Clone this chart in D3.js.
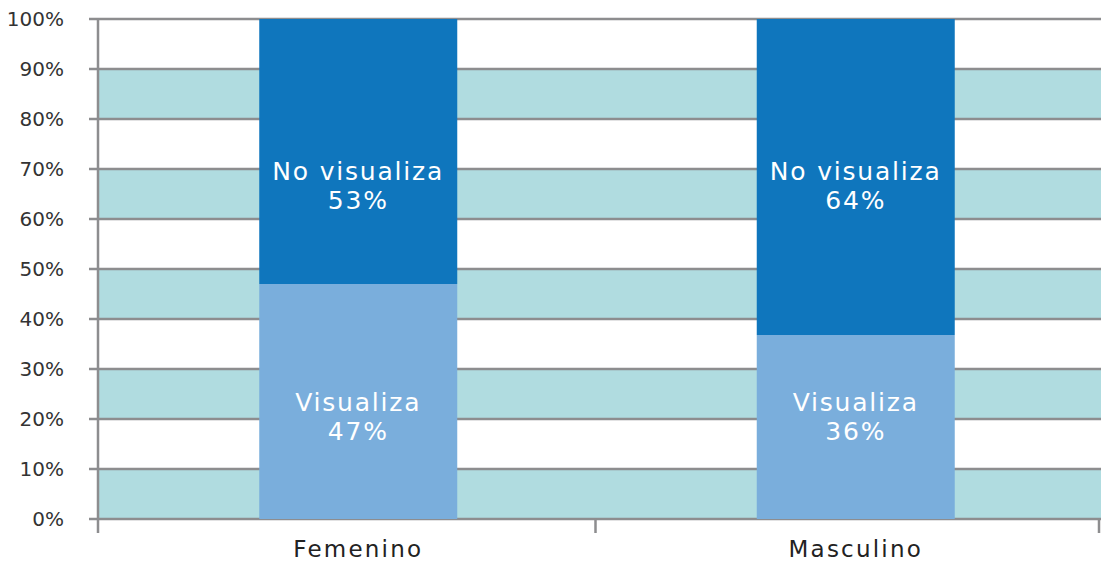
<!DOCTYPE html>
<html>
<head>
<meta charset="utf-8">
<script src="https://cdn.jsdelivr.net/npm/d3@7"></script>
<style>
  body { margin: 0; background: #fff; }
  text { font-family: "DejaVu Sans", sans-serif; }
</style>
</head>
<body>
<div id="chart"></div>
<script>
// data
var categories = ['Femenino', 'Masculino'];
var visualiza = [47, 36.8];
var noVisualiza = [53, 63.2];
var visualizaLabels = ['47%', '36%'];
var noVisualizaLabels = ['53%', '64%'];
var yTicks = [0, 10, 20, 30, 40, 50, 60, 70, 80, 90, 100];

var colors = {
	'visualiza': '#7aaedc',
	'noVisualiza': '#0f76bd',
	'band': '#b0dce0',
	'grid': '#8d8d8f',
};

var width = 1101;
var height = 562;
var margin = { 'top': 19, 'bottom': 43, 'left': 98, 'right': 8 };

var svg = d3.select('#chart').append('svg')
	.attr('width', width)
	.attr('height', height);

var y = d3.scaleLinear()
	.domain([0, 100])
	.range([height - margin.bottom, margin.top]);

var x = d3.scaleBand()
	.domain(categories)
	.range([margin.left, width - margin.right])
	.paddingInner(0);

// bars sit a bit right of the category centre
var barW = 198;
var barShift = 11.5;
function barX(c) { return x(c) + (x.bandwidth() - barW) / 2 + barShift; }

// alternating bands
var bands = yTicks.slice(0, -1).filter(function(d) { return (d / 10) % 2 === 0; });
svg.append('g').selectAll('rect')
	.data(bands)
	.enter().append('rect')
	.attr('x', margin.left)
	.attr('width', width - margin.left)
	.attr('y', function(d) { return y(d + 10); })
	.attr('height', function(d) { return y(d) - y(d + 10); })
	.attr('fill', colors.band);

// grid lines
svg.append('g').selectAll('line')
	.data(yTicks)
	.enter().append('line')
	.attr('x1', margin.left - 9)
	.attr('x2', width)
	.attr('y1', function(d) { return y(d); })
	.attr('y2', function(d) { return y(d); })
	.attr('stroke', colors.grid)
	.attr('stroke-width', 2.5);

function addLabel(g, cx, v, txt) {
	g.append('text')
		.attr('x', cx)
		.attr('y', y(v))
		.attr('text-anchor', 'middle')
		.attr('fill', 'white')
		.attr('font-size', 25)
		.attr('letter-spacing', 1.8)
		.text(txt);
}

// stacked bars
var bars = svg.append('g');
categories.forEach(function(c, i) {
	bars.append('rect')
		.attr('x', barX(c))
		.attr('width', barW)
		.attr('y', y(visualiza[i]))
		.attr('height', y(0) - y(visualiza[i]))
		.attr('fill', colors.visualiza);
	bars.append('rect')
		.attr('x', barX(c))
		.attr('width', barW)
		.attr('y', y(visualiza[i] + noVisualiza[i]))
		.attr('height', y(visualiza[i]) - y(visualiza[i] + noVisualiza[i]))
		.attr('fill', colors.noVisualiza);

	var cx = barX(c) + barW / 2;
	addLabel(bars, cx, 67.8, 'No visualiza');
	addLabel(bars, cx, 62.0, noVisualizaLabels[i]);
	addLabel(bars, cx, 21.6, 'Visualiza');
	addLabel(bars, cx, 15.8, visualizaLabels[i]);
});

// y axis
var yAxis = d3.axisLeft(y)
	.tickValues(yTicks)
	.tickSize(0)
	.tickPadding(34)
	.tickFormat(function(d) { return d + '%'; });
var gy = svg.append('g')
	.attr('transform', 'translate(' + margin.left + ',0)')
	.call(yAxis);
gy.select('.domain').remove();
gy.selectAll('text').style('font-size', '20px').attr('fill', '#333');
svg.append('line')
	.attr('x1', margin.left).attr('x2', margin.left)
	.attr('y1', y(100)).attr('y2', y(0) + 14)
	.attr('stroke', colors.grid).attr('stroke-width', 2.5);

// x axis
var xAxis = d3.axisBottom(x).tickSize(0);
var gx = svg.append('g')
	.attr('transform', 'translate(0,' + y(0) + ')')
	.call(xAxis);
gx.select('.domain').remove();
gx.selectAll('text')
	.attr('x', barShift)
	.attr('y', 38)
	.attr('dy', 0)
	.attr('letter-spacing', 2.2)
	.style('font-size', '23px').attr('fill', '#222');
var xTicks = categories.map(function(c) { return x(c); }).concat([width - 2]);
svg.append('g').selectAll('line')
	.data(xTicks.slice(1))
	.enter().append('line')
	.attr('x1', function(d) { return d; })
	.attr('x2', function(d) { return d; })
	.attr('y1', y(0))
	.attr('y2', y(0) + 14)
	.attr('stroke', colors.grid)
	.attr('stroke-width', 2.5);
</script>
</body>
</html>
